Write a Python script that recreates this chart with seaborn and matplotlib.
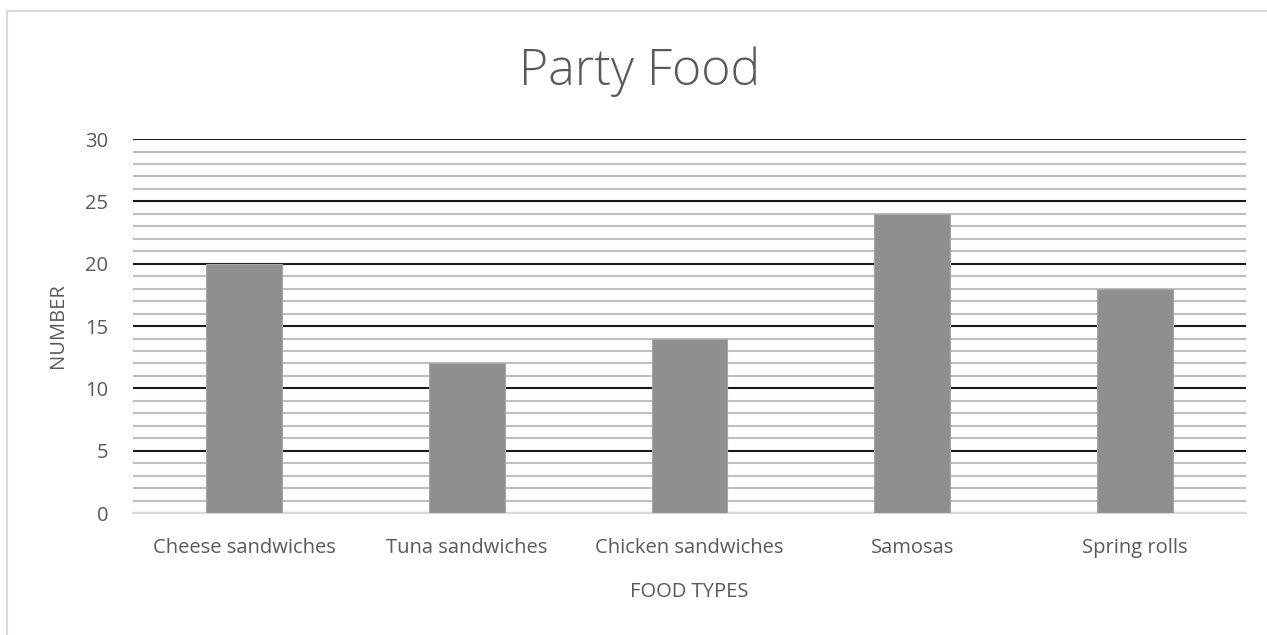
import matplotlib.pyplot as plt
import pandas as pd
import seaborn as sns
from matplotlib.patches import Rectangle
from matplotlib.ticker import MultipleLocator

# Chart data
foods = ['Cheese sandwiches', 'Tuna sandwiches', 'Chicken sandwiches', 'Samosas', 'Spring rolls']
numbers = [20, 12, 14, 24, 18]
y_ticks = [0, 5, 10, 15, 20, 25, 30]

df = pd.DataFrame({'food': foods, 'number': numbers})

sns.set_style('white')
plt.rcParams['font.family'] = ['Open Sans', 'DejaVu Sans']
text_color = '#595959'

fig = plt.figure(figsize=(12.67, 6.35), dpi=100)
ax = fig.add_axes([0.105, 0.192, 0.8785, 0.589])

# Outer chart border
fig.patches.append(Rectangle((7 / 1267, -0.02), 1.1, 1 - 11 / 635 + 0.02, transform=fig.transFigure,
                             fill=False, edgecolor='#d9d9d9', lw=1.5, zorder=0))

sns.barplot(data=df, x='food', y='number', ax=ax, color='#8f8f8f', width=0.34,
            saturation=1, edgecolor='#a6a6a6', linewidth=0.8, zorder=3)

ax.set_ylim(0, 30)
ax.set_xlim(-0.5, 4.5)
ax.set_yticks(y_ticks)
ax.yaxis.set_minor_locator(MultipleLocator(1))
ax.grid(which='minor', axis='y', color='#bfbfbf', lw=1.5, zorder=0)
ax.grid(which='major', axis='y', color='#1a1a1a', lw=1.5, zorder=1)
ax.set_axisbelow(True)

for side in ['top', 'right', 'left']:
    ax.spines[side].set_visible(False)
ax.spines['bottom'].set_color('#d9d9d9')
ax.spines['bottom'].set_linewidth(1.5)

ax.tick_params(axis='both', which='both', length=0, labelsize=14.5, labelcolor=text_color)
ax.tick_params(axis='x', pad=18)
ax.tick_params(axis='y', pad=18)

fig.text(640 / 1267, 1 - 72 / 635, 'Party Food', fontsize=36, color=text_color,
         fontweight='light', ha='center', va='center')
ax.set_xlabel('FOOD TYPES', fontsize=14.5, color=text_color, labelpad=17)
ax.set_ylabel('NUMBER', fontsize=14.5, color=text_color, labelpad=12)

fig.savefig('out.png', dpi=100)
